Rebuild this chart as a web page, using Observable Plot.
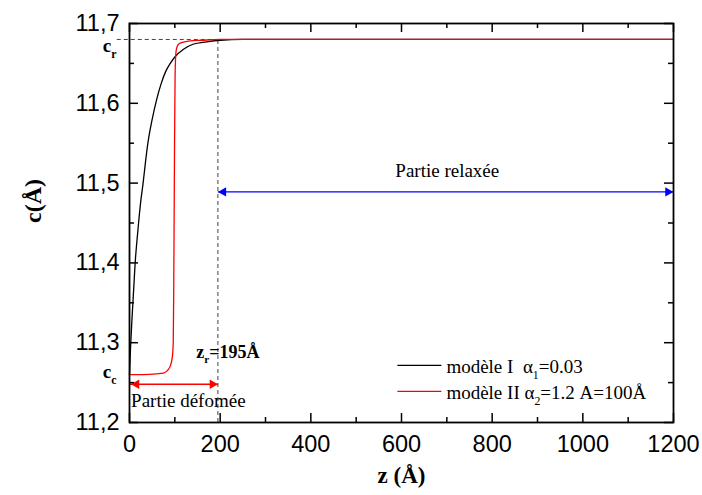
<!DOCTYPE html>
<html><head><meta charset="utf-8">
<script src="https://cdn.jsdelivr.net/npm/d3@7"></script>
<script src="https://cdn.jsdelivr.net/npm/@observablehq/plot@0.6"></script>
<style>
body{margin:0;background:#fff}
#chart svg{display:block}
#chart svg text{white-space:pre}
</style>
</head><body><div id="chart"></div>
<script>
// model I (black) : z (Å) and c (Å)
const blackZ = [0, 2, 5, 7.5, 10, 12.5, 16, 20, 25, 30, 35, 40, 50, 60, 70, 80, 90, 100, 120, 140, 170, 200, 250, 300, 1200];
const blackC = [11.26, 11.29, 11.325, 11.35, 11.375, 11.40, 11.425, 11.45, 11.478, 11.50, 11.525, 11.548, 11.58, 11.605, 11.625, 11.64, 11.65, 11.658, 11.668, 11.674, 11.677, 11.679, 11.68, 11.68, 11.68];
// model II (red)
const redZ = [0, 30, 60, 75, 85, 90, 93, 95, 96.5, 97.5, 98.5, 99.5, 100.5, 101.5, 102.5, 104, 108, 115, 130, 160, 200, 1200];
const redC = [11.26, 11.26, 11.261, 11.262, 11.266, 11.271, 11.277, 11.285, 11.30, 11.36, 11.46, 11.56, 11.63, 11.655, 11.664, 11.669, 11.674, 11.676, 11.678, 11.679, 11.68, 11.68];

const xMajor = [0, 200, 400, 600, 800, 1000, 1200];
const xMinor = [100, 300, 500, 700, 900, 1100];
const yMajor = [11.2, 11.3, 11.4, 11.5, 11.6, 11.7];
const yMinor = [11.25, 11.35, 11.45, 11.55, 11.65];

const cr = 11.68, cc = 11.26, zr = 195, zMax = 1200;
const relaxY = 11.489, deformY = 11.248;
const legendLabels = ["modèle I  α_1=0.03", "modèle II α_2=1.2 A=100Å"];
const legendColors = ["black", "red"];
const legendY = [11.2716, 11.239];

const black = blackZ.map((z, i) => ({z, c: blackC[i]}));
const red = redZ.map((z, i) => ({z, c: redC[i]}));
const legend = legendLabels.map((l, i) => ({l, col: legendColors[i], y: legendY[i]}));

const W = 702, H = 495, mL = 129, mR = 29, mT = 23, mB = 73;
const IW = W - mL - mR, IH = H - mT - mB;
const serif = "Liberation Serif, Times New Roman, serif";
const fmtY = d => d.toFixed(1).replace(".", ",");
const fmtX = d => String(d);

const chart = Plot.plot({
  width: W, height: H,
  marginLeft: mL, marginRight: mR, marginTop: mT, marginBottom: mB,
  x: {domain: [0, 1200]},
  y: {domain: [11.2, 11.7]},
  style: {fontFamily: "Liberation Sans, Arial, sans-serif", background: "white", color: "black"},
  marks: [
    // reference dashed lines
    Plot.ruleY([cr], {x1: -27, x2: zr, stroke: "#444", strokeDasharray: "4,3", strokeWidth: 1}),
    Plot.ruleX([zr], {y1: 11.2, y2: cr, stroke: "#444", strokeDasharray: "4,3", strokeWidth: 1}),
    // curves
    Plot.line(black, {x: "z", y: "c", stroke: "black", strokeWidth: 1.3, curve: "monotone-x"}),
    Plot.line(red, {x: "z", y: "c", stroke: "red", strokeWidth: 1.3, curve: "monotone-x"}),
    // blue arrow (relaxed part)
    Plot.link([zr], {x1: d => d, x2: zMax, y1: relaxY, y2: relaxY, stroke: "blue", strokeWidth: 1.4}),
    Plot.dot([zr], {x: d => d, y: relaxY, symbol: "triangle", rotate: -90, r: 3.5, fill: "blue", stroke: "none", dx: 5.5}),
    Plot.dot([zMax], {x: d => d, y: relaxY, symbol: "triangle", rotate: 90, r: 3.5, fill: "blue", stroke: "none", dx: -5.5}),
    Plot.text(["Partie relaxée"], {x: 701, y: 11.515, text: d => d, fontFamily: serif, fontSize: 19}),
    // red arrow (deformed part)
    Plot.link([zr], {x1: 0, x2: d => d, y1: deformY, y2: deformY, stroke: "red", strokeWidth: 1.4}),
    Plot.dot([0], {x: d => d, y: deformY, symbol: "triangle", rotate: -90, r: 3.5, fill: "red", stroke: "none", dx: 7}),
    Plot.dot([zr], {x: d => d, y: deformY, symbol: "triangle", rotate: 90, r: 3.5, fill: "red", stroke: "none", dx: -5.5}),
    Plot.text(["Partie défomée"], {x: 3.5, y: 11.2275, text: d => d, textAnchor: "start", fontFamily: serif, fontSize: 19}),
    // annotations
    Plot.text(["z_r=195Å"], {x: 147.5, y: 11.288, text: d => d, textAnchor: "start", fontFamily: serif, fontWeight: "bold", fontSize: 18}),
    Plot.text(["c_r"], {x: 0, y: cr, text: d => d, textAnchor: "end", dx: -13, dy: 6, fontFamily: serif, fontWeight: "bold", fontSize: 19}),
    Plot.text(["c_c"], {x: 0, y: cc, text: d => d, textAnchor: "end", dx: -13, dy: -3, fontFamily: serif, fontWeight: "bold", fontSize: 19}),
    // legend
    Plot.link(legend, {x1: 591, x2: 688, y1: "y", y2: "y", stroke: "col", strokeWidth: 1.3}),
    Plot.text(legend, {x: 699, y: "y", text: "l", textAnchor: "start", dy: 2, fontFamily: serif, fontSize: 19}),
    // ticks (inward, on all four sides)
    Plot.tickX(xMajor, {x: d => d, insetTop: IH - 9, strokeWidth: 1.5}),
    Plot.tickX(xMajor, {x: d => d, insetBottom: IH - 9, strokeWidth: 1.5}),
    Plot.tickX(xMinor, {x: d => d, insetTop: IH - 5, strokeWidth: 1.5}),
    Plot.tickX(xMinor, {x: d => d, insetBottom: IH - 5, strokeWidth: 1.5}),
    Plot.tickY(yMajor, {y: d => d, insetRight: IW - 9, strokeWidth: 1.5}),
    Plot.tickY(yMajor, {y: d => d, insetLeft: IW - 9, strokeWidth: 1.5}),
    Plot.tickY(yMinor, {y: d => d, insetRight: IW - 5, strokeWidth: 1.5}),
    Plot.tickY(yMinor, {y: d => d, insetLeft: IW - 5, strokeWidth: 1.5}),
    Plot.frame({stroke: "black", strokeWidth: 1.8}),
    // axes
    Plot.axisX({ticks: xMajor, tickSize: 0, tickPadding: 13, fontSize: 23.5, tickFormat: fmtX, label: null}),
    Plot.axisY({ticks: yMajor, tickSize: 0, tickPadding: 10, fontSize: 23.5, tickFormat: fmtY, label: null}),
    Plot.text(["z (Å)"], {frameAnchor: "bottom", dy: 60, text: d => d, fontFamily: serif, fontWeight: "bold", fontSize: 23}),
    Plot.text(["c(Å)"], {frameAnchor: "left", dx: -96, rotate: -90, text: d => d, fontFamily: serif, fontWeight: "bold", fontSize: 24})
  ]
});
document.getElementById("chart").appendChild(chart);

// turn "x_y" into a subscript y
chart.querySelectorAll("text").forEach(t => {
  const s = t.textContent;
  if (!s.includes("_")) return;
  const fs = parseFloat(getComputedStyle(t).fontSize) || 18;
  const sh = Math.round(fs * 0.3);
  const parts = s.split(/_(.)/);
  t.textContent = "";
  const ns = "http://www.w3.org/2000/svg";
  let prevSub = false;
  parts.forEach((p, i) => {
    if (p === "") return;
    const ts = document.createElementNS(ns, "tspan");
    ts.textContent = p;
    if (i % 2 === 1) {
      ts.setAttribute("font-size", (fs * 0.62).toFixed(1));
      ts.setAttribute("dy", sh);
      prevSub = true;
    } else {
      if (prevSub) ts.setAttribute("dy", -sh);
      prevSub = false;
    }
    t.appendChild(ts);
  });
});
</script>
</body></html>
